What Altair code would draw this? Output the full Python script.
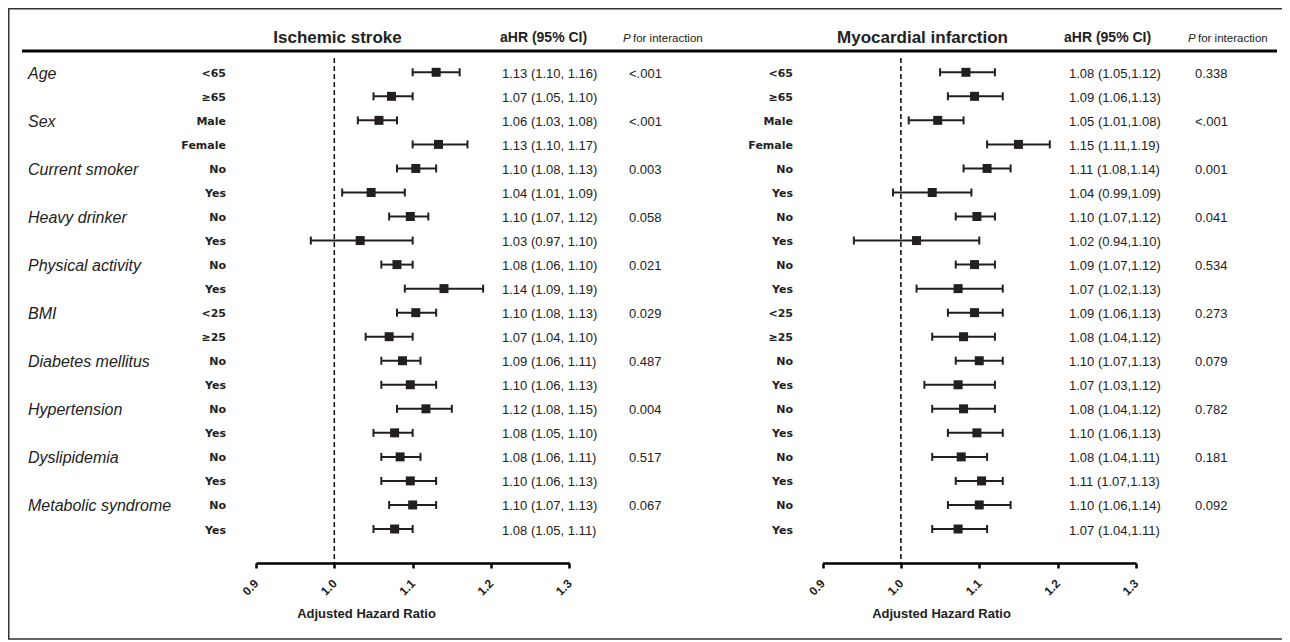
import altair as alt
import pandas as pd

# ---------------- data ----------------
groups = ["Age", "Sex", "Current smoker", "Heavy drinker", "Physical activity",
          "BMI", "Diabetes mellitus", "Hypertension", "Dyslipidemia", "Metabolic syndrome"]
subgroups = ["<65", "≥65", "Male", "Female", "No", "Yes", "No", "Yes", "No", "Yes",
             "<25", "≥25", "No", "Yes", "No", "Yes", "No", "Yes", "No", "Yes"]

# Ischemic stroke
is_hr = [1.130, 1.073, 1.057, 1.133, 1.104, 1.047, 1.097, 1.033, 1.080, 1.140,
         1.104, 1.070, 1.087, 1.097, 1.117, 1.077, 1.084, 1.097, 1.100, 1.077]
is_lo = [1.10, 1.05, 1.03, 1.10, 1.08, 1.01, 1.07, 0.97, 1.06, 1.09,
         1.08, 1.04, 1.06, 1.06, 1.08, 1.05, 1.06, 1.06, 1.07, 1.05]
is_hi = [1.16, 1.10, 1.08, 1.17, 1.13, 1.09, 1.12, 1.10, 1.10, 1.19,
         1.13, 1.10, 1.11, 1.13, 1.15, 1.10, 1.11, 1.13, 1.13, 1.10]
is_txt = ["1.13 (1.10, 1.16)", "1.07 (1.05, 1.10)", "1.06 (1.03, 1.08)", "1.13 (1.10, 1.17)",
          "1.10 (1.08, 1.13)", "1.04 (1.01, 1.09)", "1.10 (1.07, 1.12)", "1.03 (0.97, 1.10)",
          "1.08 (1.06, 1.10)", "1.14 (1.09, 1.19)", "1.10 (1.08, 1.13)", "1.07 (1.04, 1.10)",
          "1.09 (1.06, 1.11)", "1.10 (1.06, 1.13)", "1.12 (1.08, 1.15)", "1.08 (1.05, 1.10)",
          "1.08 (1.06, 1.11)", "1.10 (1.06, 1.13)", "1.10 (1.07, 1.13)", "1.08 (1.05, 1.11)"]
is_p = ["<.001", "<.001", "0.003", "0.058", "0.021", "0.029", "0.487", "0.004", "0.517", "0.067"]

# Myocardial infarction
mi_hr = [1.083, 1.094, 1.047, 1.150, 1.110, 1.040, 1.097, 1.020, 1.094, 1.073,
         1.094, 1.080, 1.100, 1.073, 1.080, 1.097, 1.077, 1.103, 1.100, 1.073]
mi_lo = [1.05, 1.06, 1.01, 1.11, 1.08, 0.99, 1.07, 0.94, 1.07, 1.02,
         1.06, 1.04, 1.07, 1.03, 1.04, 1.06, 1.04, 1.07, 1.06, 1.04]
mi_hi = [1.12, 1.13, 1.08, 1.19, 1.14, 1.09, 1.12, 1.10, 1.12, 1.13,
         1.13, 1.12, 1.13, 1.12, 1.12, 1.13, 1.11, 1.13, 1.14, 1.11]
mi_txt = ["1.08 (1.05,1.12)", "1.09 (1.06,1.13)", "1.05 (1.01,1.08)", "1.15 (1.11,1.19)",
          "1.11 (1.08,1.14)", "1.04 (0.99,1.09)", "1.10 (1.07,1.12)", "1.02 (0.94,1.10)",
          "1.09 (1.07,1.12)", "1.07 (1.02,1.13)", "1.09 (1.06,1.13)", "1.08 (1.04,1.12)",
          "1.10 (1.07,1.13)", "1.07 (1.03,1.12)", "1.08 (1.04,1.12)", "1.10 (1.06,1.13)",
          "1.08 (1.04,1.11)", "1.11 (1.07,1.13)", "1.10 (1.06,1.14)", "1.07 (1.04,1.11)"]
mi_p = ["0.338", "<.001", "0.001", "0.041", "0.534", "0.273", "0.079", "0.782", "0.181", "0.092"]

ticks = [0.9, 1.0, 1.1, 1.2, 1.3]

# ---------------- table ----------------
n = len(subgroups)
df = pd.DataFrame({
    "row": list(range(n)),
    "group": [groups[i // 2] if i % 2 == 0 else "" for i in range(n)],
    "sub": subgroups,
    "is_hr": is_hr, "is_lo": is_lo, "is_hi": is_hi, "is_txt": is_txt,
    "is_p": [is_p[i // 2] if i % 2 == 0 else "" for i in range(n)],
    "mi_hr": mi_hr, "mi_lo": mi_lo, "mi_hi": mi_hi, "mi_txt": mi_txt,
    "mi_p": [mi_p[i // 2] if i % 2 == 0 else "" for i in range(n)],
})

F = "Liberation Sans"
C = "#231f20"
TXT = "#222222"

Y = alt.Scale(domain=[0, n - 1], range=[64.3, 521], zero=False, nice=False)
XL = alt.Scale(domain=[0.9, 1.3], range=[248, 561.3], zero=False, nice=False)
XR = alt.Scale(domain=[0.9, 1.3], range=[814.5, 1128], zero=False, nice=False)

base = alt.Chart(df)
yenc = alt.Y("row:Q", scale=Y, axis=None)


def make_axis(title_x):
    return alt.Axis(orient="bottom", values=ticks, format=".1f", labelAngle=315,
                    labelAlign="right", labelBaseline="middle", labelPadding=13, labelFont=F,
                    labelFontSize=12, labelFontWeight="bold", labelColor=TXT,
                    labelFlush=False, labelOverlap=False,
                    domainColor="black", domainWidth=2.5, tickColor="black", tickWidth=2.5,
                    tickSize=5, grid=False, title="Adjusted Hazard Ratio", titleFont=F,
                    titleFontSize=13, titleFontWeight="bold", titleColor=TXT,
                    titleX=title_x, titleY=50, titleAlign="center", titleBaseline="middle")


def panel(prefix, xs, title_x):
    ref = alt.Chart(alt.Data(values=[{"ref": 1.0}])).mark_rule(
        strokeDash=[5, 3], strokeWidth=1.5, color="black").encode(
        x=alt.X("ref:Q", scale=xs, axis=None), y=alt.value(50), y2=alt.value(555))
    ci = base.mark_rule(color=C, strokeWidth=2).encode(
        x=alt.X(f"{prefix}_lo:Q", scale=xs, axis=None), x2=f"{prefix}_hi:Q", y=yenc)
    cap_lo = base.mark_point(shape="M0,-1L0,1", size=64, filled=False, strokeWidth=2,
                             color=C, opacity=1).encode(
        x=alt.X(f"{prefix}_lo:Q", scale=xs, axis=None), y=yenc)
    cap_hi = base.mark_point(shape="M0,-1L0,1", size=64, filled=False, strokeWidth=2,
                             color=C, opacity=1).encode(
        x=alt.X(f"{prefix}_hi:Q", scale=xs, axis=None), y=yenc)
    sq = base.mark_square(size=81, color=C, opacity=1).encode(
        x=alt.X(f"{prefix}_hr:Q", scale=xs, axis=make_axis(title_x)), y=yenc)
    return [ref, ci, cap_lo, cap_hi, sq]


def row_text(field, x, align="left", size=13, weight="normal", style="normal", font=F):
    return base.mark_text(align=align, baseline="middle", dy=1.5, font=font, fontSize=size,
                          fontWeight=weight, fontStyle=style, color=TXT).encode(
        x=alt.value(x), y=yenc, text=f"{field}:N")


one = alt.Data(values=[{}])


def label(txt, x, y, size, weight="normal", style="normal", align="left"):
    return alt.Chart(one).mark_text(text=txt, align=align, baseline="alphabetic", font=F,
                                    fontSize=size, fontWeight=weight, fontStyle=style,
                                    color=TXT).encode(x=alt.value(x), y=alt.value(y))


border = alt.Chart(one).mark_rect(fillOpacity=0, stroke="#333333", strokeWidth=1.5).encode(
    x=alt.value(0.75), x2=alt.value(1290), y=alt.value(0.75), y2=alt.value(631))
header_line = alt.Chart(one).mark_rule(color="black", strokeWidth=3).encode(
    x=alt.value(14), x2=alt.value(1269), y=alt.value(43))

layers = [border, header_line]
layers += panel("is", XL, 358)
layers += panel("mi", XR, 933)
layers += [
    row_text("group", 20, size=16, style="italic"),
    row_text("sub", 218, align="right", size=11, weight="bold", font="DejaVu Sans"),
    row_text("sub", 785, align="right", size=11, weight="bold", font="DejaVu Sans"),
    row_text("is_txt", 494),
    row_text("is_p", 621),
    row_text("mi_txt", 1061),
    row_text("mi_p", 1187),
    label("Ischemic stroke", 329.5, 35, 17, weight="bold", align="center"),
    label("Myocardial infarction", 914.5, 35, 17, weight="bold", align="center"),
    label("aHR (95% CI)", 492, 33.7, 14, weight="bold"),
    label("aHR (95% CI)", 1056, 33.7, 14, weight="bold"),
    label("P", 615, 33.7, 11.5, style="italic"),
    label("for interaction", 625, 33.7, 11.5),
    label("P", 1180, 33.7, 11.5, style="italic"),
    label("for interaction", 1190, 33.7, 11.5),
]

chart = alt.layer(*layers).resolve_scale(x="independent").properties(
    width=1274, height=555,
    padding={"left": 0, "top": 0, "right": 0, "bottom": 78},
    autosize=alt.AutoSizeParams(type="none"),
).configure_view(stroke=None)

chart.save("out.html", embed_options={"renderer": "svg", "actions": False})
